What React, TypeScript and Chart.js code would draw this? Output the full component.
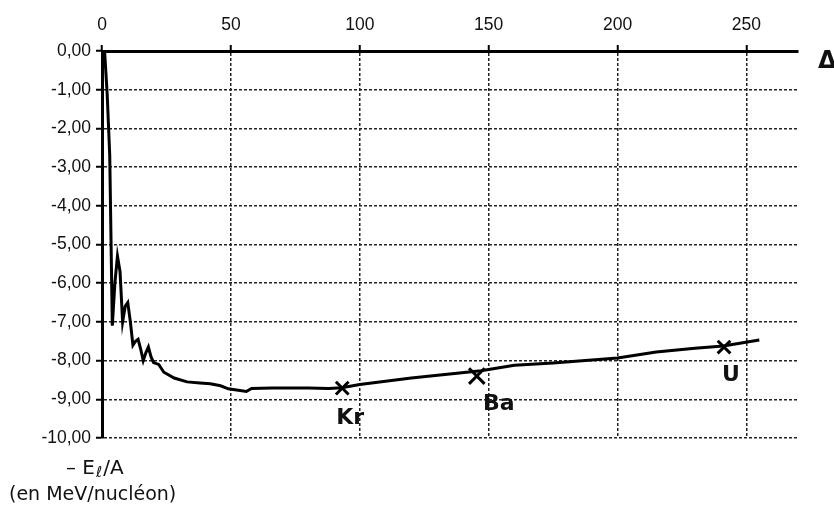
import React, { useEffect, useRef } from "react";
import { Chart, registerables } from "chart.js";
Chart.register(...registerables);

// Nombre de nucléons A
const massNumbers = [1,2,3,4,5,6,7,8,9,10,11,12,13,14,15,16,17,18,19,20,22,24,28,33,38,42,46,49,56,58,66,80,88,93,100,120,147,160,175,200,215,230,241,255];
// -El/A (MeV/nucléon)
const energyPerNucleon = [0,-1.1,-2.7,-7.1,-6.0,-5.3,-5.7,-7.0,-6.6,-6.5,-7.0,-7.6,-7.5,-7.45,-7.7,-8.0,-7.8,-7.65,-7.9,-8.05,-8.1,-8.3,-8.45,-8.55,-8.58,-8.6,-8.65,-8.73,-8.8,-8.72,-8.71,-8.71,-8.72,-8.7,-8.62,-8.45,-8.26,-8.12,-8.06,-7.93,-7.78,-7.68,-7.62,-7.47];

const markerNames = ["Kr", "Ba", "U"];
const markerA = [93.2, 145.4, 241.3];
const markerE = [-8.71, -8.40, -7.65];

const xTicks = [0, 50, 100, 150, 200, 250];
const yTicks = [0, -1, -2, -3, -4, -5, -6, -7, -8, -9, -10];

const axisTitleLine1 = ["– E", "ℓ", "/A"];
const axisTitleLine2 = "(en MeV/nucléon)";
const cornerText = "Δ";

const labelOffsets = [
  [8, 30],
  [22, 28],
  [7, 28],
];

export default function App() {
  const ref = useRef<HTMLCanvasElement | null>(null);
  useEffect(() => {
    const canvas = ref.current;
    if (!canvas) return;
    const textPlugin = {
      id: "texts",
      afterDraw(chart: any) {
        const ctx = chart.ctx;
        const xs = chart.scales.x;
        const ys = chart.scales.y;
        ctx.save();
        ctx.fillStyle = "#111";
        ctx.textAlign = "center";
        ctx.textBaseline = "middle";
        ctx.font = "bold 22px 'DejaVu Sans'";
        markerNames.forEach((n, i) => {
          const px = xs.getPixelForValue(markerA[i]) + labelOffsets[i][0];
          const py = ys.getPixelForValue(markerE[i]) + labelOffsets[i][1];
          ctx.fillText(n, px, py);
        });
        // corner Δ
        ctx.textAlign = "left";
        ctx.textBaseline = "alphabetic";
        ctx.font = "bold 24px 'DejaVu Sans'";
        ctx.fillText(cornerText, 818, 68);
        // axis title
        ctx.font = "20px 'DejaVu Sans'";
        let x = 66;
        ctx.fillText(axisTitleLine1[0], x, 474);
        x += ctx.measureText(axisTitleLine1[0]).width + 1;
        ctx.font = "15px 'DejaVu Sans'";
        ctx.fillText(axisTitleLine1[1], x, 477);
        x += ctx.measureText(axisTitleLine1[1]).width + 1;
        ctx.font = "20px 'DejaVu Sans'";
        ctx.fillText(axisTitleLine1[2], x, 474);
        ctx.font = "19px 'DejaVu Sans'";
        ctx.fillText(axisTitleLine2, 9, 500);
        ctx.restore();
      },
    };
    const tickFont = { family: "'Liberation Sans'", size: 17.5 };
    const chart = new Chart(canvas, {
      type: "line",
      data: {
        datasets: [
          {
            data: massNumbers.map((a, i) => ({ x: a, y: energyPerNucleon[i] })),
            borderColor: "#000",
            borderWidth: 3,
            pointRadius: 0,
            tension: 0,
            fill: false,
          },
          {
            type: "scatter",
            data: markerA.map((a, i) => ({ x: a, y: markerE[i] })),
            pointStyle: "crossRot",
            pointRadius: [9, 11, 9],
            borderColor: "#000",
            borderWidth: 3,
            showLine: false,
          } as any,
        ],
      },
      options: {
        animation: false,
        responsive: false,
        layout: { padding: { left: 0, top: 0, right: 36, bottom: 68 } },
        plugins: { legend: { display: false }, tooltip: { enabled: false } },
        scales: {
          x: {
            type: "linear",
            position: "top",
            min: 0,
            max: 270,
            afterBuildTicks: (s: any) => {
              s.ticks = xTicks.map((v) => ({ value: v }));
            },
            afterFit: (s: any) => {
              s.height = 51;
            },
            ticks: {
              color: "#111",
              font: tickFont,
              padding: 9,
              maxRotation: 0,
            },
            grid: {
              color: "#222",
              lineWidth: 1.5,
              tickLength: 6,
              tickColor: "#000",
              tickWidth: 2,
              tickBorderDash: [],
            },
            border: { display: true, color: "#000", width: 3, dash: [3, 2] },
          },
          y: {
            type: "linear",
            min: -10,
            max: 0,
            afterBuildTicks: (s: any) => {
              s.ticks = yTicks.map((v) => ({ value: v }));
            },
            afterFit: (s: any) => {
              s.width = 102;
            },
            ticks: {
              color: "#111",
              font: tickFont,
              padding: 5,
              callback: (v: any) => (Number(v) === 0 ? "0,00" : Number(v).toFixed(2).replace(".", ",")),
            },
            grid: {
              color: "#222",
              lineWidth: 1.5,
              tickLength: 6,
              tickColor: "#000",
              tickWidth: 2,
              tickBorderDash: [],
            },
            border: { display: true, color: "#000", width: 3, dash: [3, 2] },
          },
        },
      },
      plugins: [textPlugin],
    });
    return () => chart.destroy();
  }, []);
  return (
    <div style={{ position: "fixed", left: 0, top: 0, width: 834, height: 506, background: "#fff" }}>
      <canvas ref={ref} width={834} height={506} style={{ width: 834, height: 506 }} />
    </div>
  );
}
